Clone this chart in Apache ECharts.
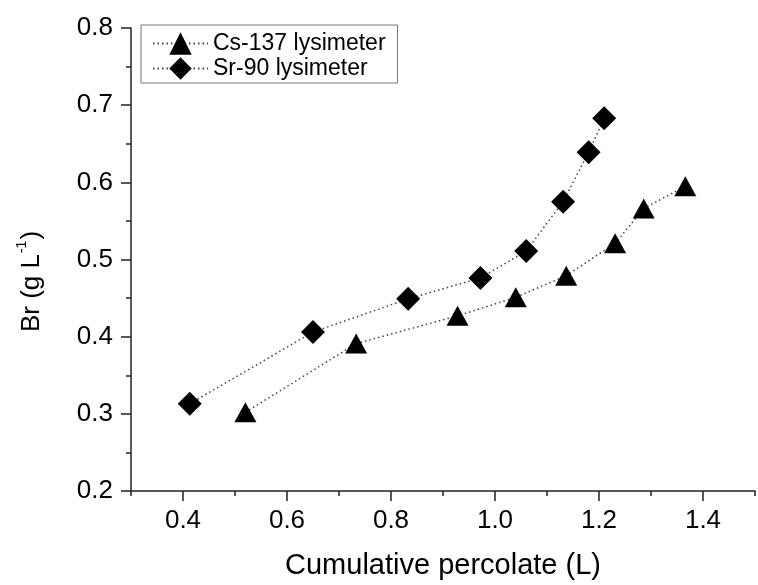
<!DOCTYPE html>
<html>
<head>
<meta charset="utf-8">
<script src="https://cdn.jsdelivr.net/npm/echarts@6/dist/echarts.min.js"></script>
<style>
    html, body { margin: 0; padding: 0; background: #fff; }
    #chart { width: 758px; height: 585px; }
</style>
</head>
<body>
<div id="chart"></div>
<script>
// Data
var csX = [0.52, 0.733, 0.928, 1.04, 1.137, 1.231, 1.286, 1.366];
var csY = [0.302, 0.391, 0.427, 0.451, 0.479, 0.521, 0.566, 0.595];
var srX = [0.413, 0.65, 0.833, 0.972, 1.06, 1.131, 1.18, 1.21];
var srY = [0.313, 0.406, 0.449, 0.476, 0.511, 0.575, 0.639, 0.683];

var xMajorTicks = [0.4, 0.6, 0.8, 1.0, 1.2, 1.4];
var xMinorTicks = [0.3, 0.5, 0.7, 0.9, 1.1, 1.3, 1.5];

var seriesNames = ['Cs-137 lysimeter', 'Sr-90 lysimeter'];

function pairs(xs, ys) {
    return xs.map(function(x, i) { return [x, ys[i]]; });
}

var chart = echarts.init(document.getElementById('chart'));

var font = 'Liberation Sans, Arial, sans-serif';
var lineStyle = { color: '#444', width: 1.5, type: [1.5, 3] };

chart.setOption({
    animation: false,
    textStyle: { fontFamily: font, color: '#000' },

    grid: { left: 131, right: 3, top: 28, bottom: 92 },

    legend: {
        left: 141,
        top: 25,
        orient: 'vertical',
        data: seriesNames,
        itemWidth: 55,
        itemHeight: 28,
        itemGap: 2,
        padding: [7, 12, 3, 11],
        borderColor: '#777',
        borderWidth: 1,
        textStyle: { fontSize: 23, color: '#000', fontFamily: font }
    },

    xAxis: [{
        type: 'value',
        min: 0.3,
        max: 1.5,
        name: 'Cumulative percolate (L)',
        nameLocation: 'middle',
        nameGap: 60,
        nameTextStyle: { fontSize: 29, color: '#000', fontFamily: font },
        axisLine: { show: true, onZero: false, lineStyle: { color: '#222', width: 1.5 } },
        axisTick: { show: true, length: 10, customValues: xMajorTicks, lineStyle: { color: '#222', width: 1.5 } },
        axisLabel: {
            margin: 17,
            fontSize: 26,
            color: '#000',
            customValues: xMajorTicks,
            formatter: function(v) { return v.toFixed(1); }
        },
        splitLine: { show: false }
    }, {
        type: 'value',
        min: 0.3,
        max: 1.5,
        position: 'bottom',
        axisLine: { show: false },
        axisTick: { show: true, length: 5, customValues: xMinorTicks, lineStyle: { color: '#222', width: 1.5 } },
        axisLabel: { show: false },
        splitLine: { show: false }
    }],

    yAxis: {
        type: 'value',
        min: 0.2,
        max: 0.8,
        interval: 0.1,
        name: '{a|Br (g L}{s|-1}{a|)}',
        nameLocation: 'middle',
        nameGap: 86,
        nameTextStyle: {
            padding: [0, 44, 0, 0],
            rich: {
                a: { fontSize: 26, fontFamily: font, color: '#000', lineHeight: 30, verticalAlign: 'bottom' },
                s: { fontSize: 14, fontFamily: font, color: '#000', lineHeight: 30, verticalAlign: 'top', padding: [0, 1, 0, 1] }
            }
        },
        axisLine: { show: true, onZero: false, lineStyle: { color: '#222', width: 1.5 } },
        axisTick: { show: true, length: 10, lineStyle: { color: '#222', width: 1.5 } },
        minorTick: { show: true, splitNumber: 2, length: 5, lineStyle: { color: '#222', width: 1.5 } },
        axisLabel: {
            margin: 18,
            fontSize: 26,
            color: '#000',
            formatter: function(v) { return v.toFixed(1); }
        },
        splitLine: { show: false }
    },

    series: [{
        name: seriesNames[0],
        type: 'line',
        data: pairs(csX, csY),
        symbol: 'triangle',
        symbolSize: [22, 20],
        itemStyle: { color: '#000' },
        lineStyle: lineStyle
    }, {
        name: seriesNames[1],
        type: 'line',
        data: pairs(srX, srY),
        symbol: 'diamond',
        symbolSize: 24,
        itemStyle: { color: '#000' },
        lineStyle: lineStyle
    }]
});
</script>
</body>
</html>
